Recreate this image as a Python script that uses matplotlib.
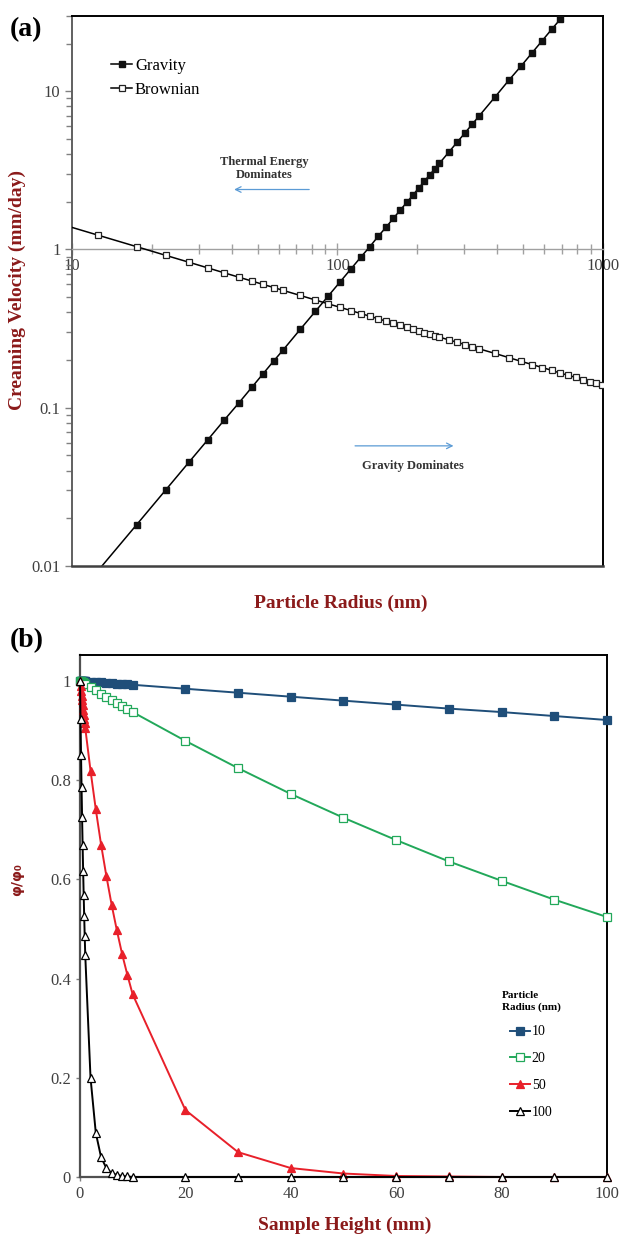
import matplotlib.pyplot as plt
import numpy as np
from matplotlib.ticker import LogLocator, NullFormatter, FixedLocator

plt.rcParams['font.family'] = ['Liberation Serif', 'DejaVu Serif']

# ---- panel (a): creaming velocity vs particle radius ----
radius = [7.5, 12.5, 17.5, 22.5, 27.5, 32.5, 37.5, 42.5, 47.5, 52.5, 57.5, 62.5,
          72.5, 82.5, 92.5, 102.5, 112.5, 122.5, 132.5, 142.5, 152.5, 162.5,
          172.5, 182.5, 192.5, 202.5, 212.5, 222.5, 232.5, 242.5, 262.5, 282.5,
          302.5, 322.5, 342.5, 392.5, 442.5, 492.5, 542.5, 592.5, 642.5, 692.5,
          742.5, 792.5, 842.5, 892.5, 942.5, 992.5]
gravity = [0.00335, 0.0093, 0.0182, 0.0301, 0.045, 0.0628, 0.0837, 0.107, 0.134,
           0.164, 0.197, 0.232, 0.313, 0.405, 0.509, 0.625, 0.753, 0.893, 1.04,
           1.21, 1.38, 1.57, 1.77, 1.98, 2.20, 2.44, 2.69, 2.95, 3.22, 3.50, 4.10,
           4.75, 5.44, 6.19, 6.98, 9.17, 11.7, 14.4, 17.5, 20.9, 24.6, 28.5, 32.8,
           37.4, 42.2, 47.4, 52.9, 58.6]
brownian = [1.588, 1.23, 1.04, 0.917, 0.83, 0.763, 0.71, 0.667, 0.631, 0.60,
            0.574, 0.55, 0.511, 0.479, 0.452, 0.43, 0.41, 0.393, 0.378, 0.364,
            0.352, 0.341, 0.331, 0.322, 0.314, 0.306, 0.298, 0.292, 0.285, 0.279,
            0.268, 0.259, 0.25, 0.242, 0.235, 0.22, 0.207, 0.196, 0.187, 0.179,
            0.172, 0.165, 0.16, 0.155, 0.15, 0.146, 0.142, 0.138]

# ---- panel (b): phi/phi0 vs sample height ----
height = [0, 0.1, 0.2, 0.3, 0.4, 0.5, 0.6, 0.7, 0.8, 0.9, 1, 2, 3, 4, 5, 6, 7, 8,
          9, 10, 20, 30, 40, 50, 60, 70, 80, 90, 100]
phi_10 = [1, 1, 1, 1, 1, 1, 0.999, 0.999, 0.999, 0.999, 0.999, 0.998, 0.998,
          0.997, 0.996, 0.995, 0.994, 0.993, 0.993, 0.992, 0.984, 0.976, 0.968,
          0.960, 0.952, 0.944, 0.937, 0.929, 0.921]
phi_20 = [1, 0.999, 0.999, 0.998, 0.997, 0.997, 0.996, 0.995, 0.995, 0.994,
          0.994, 0.987, 0.981, 0.974, 0.968, 0.962, 0.956, 0.950, 0.944, 0.937,
          0.879, 0.824, 0.772, 0.724, 0.679, 0.636, 0.597, 0.559, 0.524]
phi_50 = [1, 0.990, 0.980, 0.970, 0.961, 0.951, 0.942, 0.932, 0.923, 0.914,
          0.905, 0.819, 0.741, 0.670, 0.607, 0.549, 0.497, 0.449, 0.407, 0.368,
          0.135, 0.050, 0.018, 0.007, 0.002, 0.001, 0, 0, 0]
phi_100 = [1, 0.923, 0.851, 0.786, 0.725, 0.669, 0.617, 0.569, 0.525, 0.485,
           0.447, 0.200, 0.089, 0.040, 0.018, 0.008, 0.004, 0.002, 0.001, 0,
           0, 0, 0, 0, 0, 0, 0, 0, 0]

label_red = '#8b1a1a'
arrow_blue = '#5b9bd5'
tick_grey = '#404040'

fig = plt.figure(figsize=(6.2, 12.34), dpi=100)

# ================= (a) =================
ax1 = fig.add_axes([0.1165, 0.5415, 0.8555, 0.4458])
ax1.set_xscale('log')
ax1.set_yscale('log')
ax1.plot(radius, gravity, color='black', lw=1.1, marker='s', ms=4.8,
         mfc='#111111', mec='#111111', label='Gravity', zorder=3)
ax1.plot(radius, brownian, color='black', lw=1.1, marker='s', ms=4.8,
         mfc='white', mec='#222222', mew=0.9, label='Brownian', zorder=3)
ax1.set_xlim(10, 1000)
ax1.set_ylim(0.01, 30)

# x axis crosses at y = 1, as in the original spreadsheet chart
ax1.spines['bottom'].set_position(('data', 1))
ax1.spines['bottom'].set_color('#a0a0a0')
ax1.spines['bottom'].set_linewidth(1.0)
ax1.axhline(0.01, color='#404040', lw=1.8, clip_on=False, zorder=4)
for s in ('top', 'right'):
    ax1.spines[s].set_color('black')
    ax1.spines[s].set_linewidth(1.4)
ax1.spines['left'].set_color('#606060')
ax1.spines['left'].set_linewidth(1.4)

ax1.xaxis.set_major_locator(FixedLocator([10, 100, 1000]))
ax1.xaxis.set_major_formatter(plt.FuncFormatter(lambda v, p: f'{v:g}'))
ax1.xaxis.set_minor_locator(LogLocator(base=10, subs=np.arange(2, 10)))
ax1.xaxis.set_minor_formatter(NullFormatter())
ax1.yaxis.set_major_locator(FixedLocator([0.01, 0.1, 1, 10]))
ax1.yaxis.set_major_formatter(plt.FuncFormatter(lambda v, p: f'{v:g}'))
ax1.yaxis.set_minor_locator(LogLocator(base=10, subs=np.arange(2, 10)))
ax1.yaxis.set_minor_formatter(NullFormatter())
ax1.tick_params(axis='x', which='both', direction='inout', color='#a0a0a0',
                length=8, width=1, labelsize=12, labelcolor=tick_grey, pad=2)
ax1.tick_params(axis='x', which='minor', length=7)
ax1.tick_params(axis='y', which='both', direction='out', color='#808080',
                length=5, width=1, labelsize=12, labelcolor=tick_grey)
ax1.tick_params(axis='y', which='minor', length=4)

fig.text(0.028, 0.765, 'Creaming Velocity (mm/day)', color=label_red,
         fontsize=14, fontweight='bold', rotation=90, ha='center', va='center')
fig.text(0.549, 0.511, 'Particle Radius (nm)', color=label_red, fontsize=14,
         fontweight='bold', ha='center', va='center')
fig.text(0.015, 0.976, '(a)', fontsize=20, fontweight='bold', va='center')

ax1.legend(loc='upper left', bbox_to_anchor=(0.06, 0.935), frameon=False,
           fontsize=12, handlelength=1.3, handletextpad=0.15, labelspacing=0.45,
           borderaxespad=0, markerscale=0.85)

ax1.annotate('', xy=(0.300, 0.684), xytext=(0.452, 0.684),
             xycoords='axes fraction',
             arrowprops=dict(arrowstyle='->', color=arrow_blue, lw=0.9))
ax1.text(0.362, 0.722, 'Thermal Energy\nDominates', transform=ax1.transAxes,
         ha='center', va='center', fontsize=9, fontweight='bold',
         color='#333333', linespacing=1.1)
ax1.annotate('', xy=(0.724, 0.218), xytext=(0.528, 0.218),
             xycoords='axes fraction',
             arrowprops=dict(arrowstyle='->', color=arrow_blue, lw=0.9))
ax1.text(0.643, 0.182, 'Gravity Dominates', transform=ax1.transAxes,
         ha='center', va='center', fontsize=9, fontweight='bold',
         color='#333333')

# ================= (b) =================
ax2 = fig.add_axes([0.129, 0.0462, 0.850, 0.423])
series = [
    (phi_10, '10', '#1f4e79', 's', '#1f4e79'),
    (phi_20, '20', '#22a85a', 's', 'white'),
    (phi_50, '50', '#e8202a', '^', '#e8202a'),
    (phi_100, '100', 'black', '^', 'white'),
]
for vals, lab, col, mk, face in series:
    ax2.plot(height, vals, color=col, lw=1.4, marker=mk, ms=5.2, mfc=face,
             mec=col, mew=0.9, label=lab, clip_on=False, zorder=3)
ax2.set_xlim(0, 100)
ax2.set_ylim(0, 1.052)
ax2.set_xticks(np.arange(0, 101, 20))
ax2.set_yticks([0, 0.2, 0.4, 0.6, 0.8, 1.0])
ax2.yaxis.set_major_formatter(plt.FuncFormatter(lambda v, p: f'{v:g}'))
for s in ('top', 'right'):
    ax2.spines[s].set_color('black')
    ax2.spines[s].set_linewidth(1.4)
for s in ('left', 'bottom'):
    ax2.spines[s].set_color('#505050')
    ax2.spines[s].set_linewidth(1.6)
ax2.tick_params(direction='out', length=3, width=1, color='#808080',
                labelsize=12, labelcolor=tick_grey)

fig.text(0.028, 0.287, 'φ/φ₀', color=label_red, fontsize=10,
         fontweight='bold', family='DejaVu Sans', rotation=90,
         ha='center', va='center')
fig.text(0.556, 0.007, 'Sample Height (mm)', color=label_red, fontsize=14,
         fontweight='bold', ha='center', va='center')
fig.text(0.015, 0.481, '(b)', fontsize=20, fontweight='bold', va='center')

leg = ax2.legend(title='Particle\nRadius (nm)', loc='upper left',
                 bbox_to_anchor=(0.79, 0.366), frameon=False, fontsize=10,
                 handlelength=1.4, handletextpad=0.15, labelspacing=1.0,
                 borderaxespad=0, title_fontproperties={'size': 8, 'weight': 'bold'})
leg._legend_box.align = 'center'

fig.savefig('out.png', dpi=100)
